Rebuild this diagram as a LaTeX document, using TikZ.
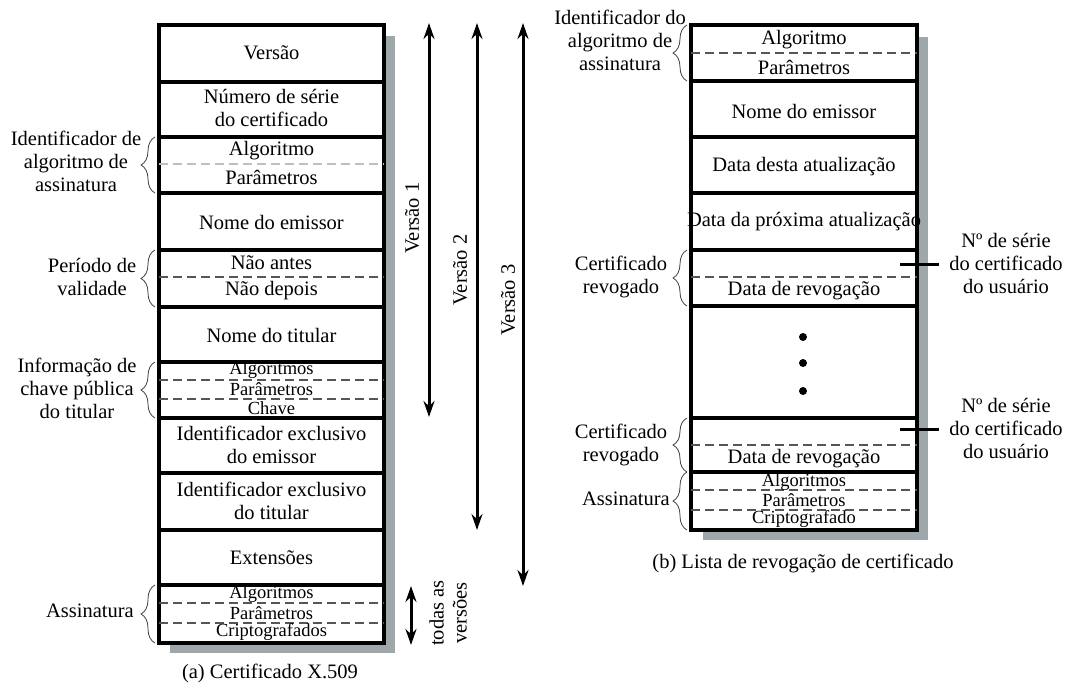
\documentclass[tikz,border=0pt]{standalone}
\usepackage{fontspec}
\setmainfont{Liberation Serif}
\usetikzlibrary{arrows.meta,decorations.pathreplacing}
\definecolor{sombra}{RGB}{158,168,170}
\definecolor{tracejado}{RGB}{85,85,95}
\tikzset{
  campo/.style={font=\fontsize{20.5}{23}\selectfont, align=center, inner sep=0pt},
  campop/.style={campo, font=\fontsize{18.5}{20}\selectfont},
  divisa/.style={line width=3.2pt},
  tracos/.style={line width=1.3pt, tracejado, dash pattern=on 9pt off 5pt},
  chave/.style={decorate, decoration={brace, amplitude=14pt}, line width=0.8pt, black!75},
  versoes/.style={line width=3pt, {Stealth[length=16pt,width=11pt]}-{Stealth[length=16pt,width=11pt]}},
  marca/.style={line width=3pt}
}

\begin{document}
\begin{tikzpicture}[x=1pt,y=-1pt]
\useasboundingbox (0,0) rectangle (1072,685);
%(a) certificado
\fill[sombra] (170,36) rectangle (395,653);
\draw[divisa, fill=white] (159,25) rectangle (384,643);
\foreach \y in {82,137,193,250,307,362,418,473,530,585}
  \draw[divisa] (159,\y) -- (384,\y);
\draw[tracos, black!25] (159,164) -- (384,164);
\foreach \y in {277,380,399,603,623}
  \draw[tracos] (159,\y) -- (384,\y);
\node[campo] (versao) at (271.5,53) {Versão};
\node[campo] (nserie) at (271.5,108) {Número de série\\do certificado};
\node[campo] (alga) at (271.5,151) {Algoritmo};
\node[campo] (para) at (271.5,177) {Parâmetros};
\node[campo] (emissora) at (271.5,222) {Nome do emissor};
\node[campo] (naoantes) at (271.5,263) {Não antes};
\node[campo] (naodepois) at (271.5,291) {Não depois};
\node[campo] (titular) at (271.5,335) {Nome do titular};
\node[campop] (algk) at (271.5,370) {Algoritmos};
\node[campop] (park) at (271.5,389) {Parâmetros};
\node[campop] (chavek) at (271.5,408) {Chave};
\node[campo] (idemissor) at (271.5,445) {Identificador exclusivo\\do emissor};
\node[campo] (idtitular) at (271.5,501) {Identificador exclusivo\\do titular};
\node[campo] (extensoes) at (271.5,558) {Extensões};
\node[campop] (algsa) at (271.5,594) {Algoritmos};
\node[campop] (parsa) at (271.5,613) {Parâmetros};
\node[campop] (cripta) at (271.5,632) {Criptografados};
%chaves da esquerda
\draw[chave] (155,193) -- (155,137);
\draw[chave] (155,307) -- (155,250);
\draw[chave] (155,418) -- (155,362);
\draw[chave] (155,643) -- (155,585);
\node[campo] (idalga) at (76,161) {Identificador de\\algoritmo de\\assinatura};
\node[campo] (periodo) at (92,277) {Período de\\validade};
\node[campo] (infochave) at (77,388) {Informação de\\chave pública\\do titular};
\node[campo] (assina) at (90,611) {Assinatura};
\node[campo] (capa) at (270,673) {(a) Certificado X.509};
%versoes
\coordinate (v1a) at (429,23);  \coordinate (v1b) at (429,417);
\coordinate (v2a) at (477,23);  \coordinate (v2b) at (477,530);
\coordinate (v3a) at (523,23);  \coordinate (v3b) at (523,586);
\coordinate (tva) at (411,586); \coordinate (tvb) at (411,645);
\draw[versoes] (v1a) -- (v1b);
\draw[versoes] (v2a) -- (v2b);
\draw[versoes] (v3a) -- (v3b);
\draw[versoes] (tva) -- (tvb);
\node[campo, rotate=90] (ver1) at (412,218) {Versão 1};
\node[campo, rotate=90] (ver2) at (460,270) {Versão 2};
\node[campo, rotate=90] (ver3) at (508,300) {Versão 3};
\node[campo, rotate=90] (todas) at (448,613) {todas as\\versões};
%(b) lista de revogacao
\fill[sombra] (703,37) rectangle (928,540);
\draw[divisa, fill=white] (691,25) rectangle (917,530);
\foreach \y in {81,137,193,250,306,418,472}
  \draw[divisa] (691,\y) -- (917,\y);
\foreach \y in {53,277,445,490,510}
  \draw[tracos] (691,\y) -- (917,\y);
\node[campo] (algb) at (804,40) {Algoritmo};
\node[campo] (parb) at (804,67) {Parâmetros};
\node[campo] (emissorb) at (804,111) {Nome do emissor};
\node[campo] (desta) at (804,167) {Data desta atualização};
\node[campo] (proxima) at (804,222) {Data da próxima atualização};
\node[campo] (revog1) at (804,291) {Data de revogação};
\node[campo] (revog2) at (804,459) {Data de revogação};
\node[campop] (algsb) at (804,482) {Algoritmos};
\node[campop] (parsb) at (804,500) {Parâmetros};
\node[campop] (criptb) at (804,519) {Criptografado};
\foreach \y/\n in {337/1,363/2,391/3}
  \node[circle, fill, inner sep=0pt, minimum size=8pt] (ponto\n) at (803,\y) {};
%chaves da direita
\draw[chave] (687,81) -- (687,25);
\draw[chave] (687,306) -- (687,250);
\draw[chave] (687,472) -- (687,418);
\draw[chave] (687,530) -- (687,472);
\node[campo] (idalgb) at (620,40) {Identificador do\\algoritmo de\\assinatura};
\node[campo] (certrev1) at (621,277) {Certificado\\revogado};
\node[campo] (certrev2) at (621,445) {Certificado\\revogado};
\node[campo] (assinb) at (626,499) {Assinatura};
%numero de serie
\node[campo] (serie1) at (1006,263) {Nº de série\\do certificado\\do usuário};
\node[campo] (serie2) at (1006,428) {Nº de série\\do certificado\\do usuário};
\coordinate (t1) at (900,264);
\coordinate (t2) at (900,429);
\draw[marca, shorten >=10pt] (t1) -- (t1 -| serie1.west);
\draw[marca, shorten >=10pt] (t2) -- (t2 -| serie2.west);
\node[campo] (capb) at (803,563) {(b) Lista de revogação de certificado};
\end{tikzpicture}
\end{document}
